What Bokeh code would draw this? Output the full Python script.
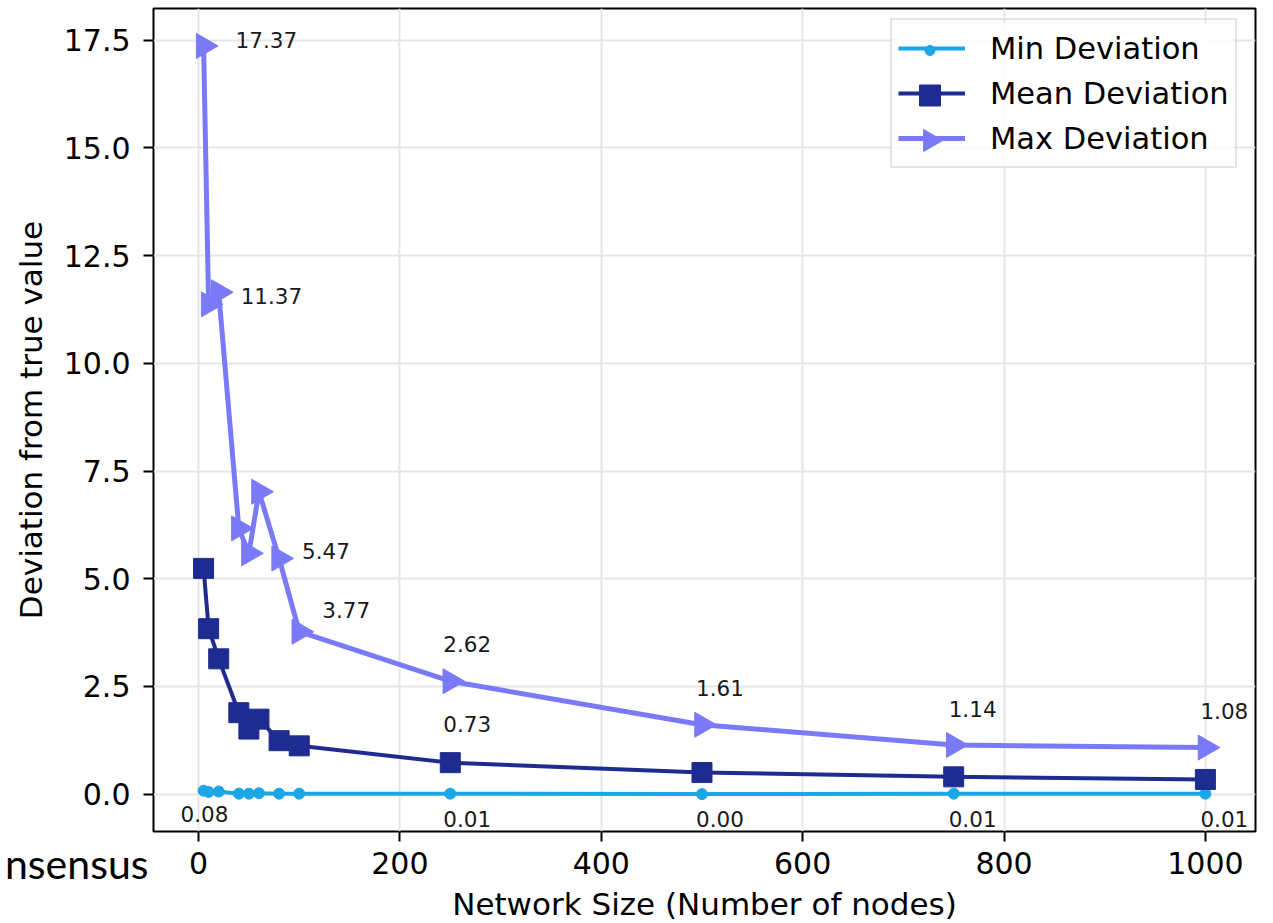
import numpy as np
from bokeh.plotting import figure
from bokeh.models import ColumnDataSource, Range1d, FixedTicker, NumeralTickFormatter, Legend, LegendItem
from bokeh.core.properties import value
from bokeh.embed import file_html
from bokeh.resources import INLINE

# ---------------- data ----------------
nodes = [5, 10, 20, 40, 50, 60, 80, 100, 250, 500, 750, 1000]
min_dev = [0.08, 0.05, 0.06, 0.01, 0.01, 0.02, 0.01, 0.01, 0.01, 0.00, 0.01, 0.01]
mean_dev = [5.24, 3.84, 3.14, 1.89, 1.51, 1.74, 1.24, 1.12, 0.73, 0.50, 0.40, 0.34]
max_dev = [17.37, 11.37, 11.65, 6.17, 5.59, 7.02, 5.47, 3.77, 2.62, 1.61, 1.14, 1.08]

series_names = ["Min Deviation", "Mean Deviation", "Max Deviation"]
x_ticks = [0, 200, 400, 600, 800, 1000]
y_ticks = [0.0, 2.5, 5.0, 7.5, 10.0, 12.5, 15.0, 17.5]
x_label = "Network Size (Number of nodes)"
y_label = "Deviation from true value"
side_text = "nsensus"

# ---------------- styles ----------------
colors = ["#1ba6e6", "#1e2c91", "#7a7af8"]
markers = ["circle", "square", "triangle"]
marker_sizes = [11, 20, 25]
legend_marker_sizes = [10, 21, 22]
marker_angles = [0.0, 0.0, -np.pi / 2]
line_widths = [4, 4, 5]
FONT = "DejaVu Sans"
FW, FH = 1102, 823                 # frame size (px)
LG_LEFT, LG_TOP, LG_W = 737, 14, 344   # legend box position / width inside frame (px)
LG_PAD, LG_H, LG_SP, LG_GW = 6, 44, 1, 67
# annotation placement: (series index, point index, dx px, dy px)
annot_spec = [
    (2, 0, 32, -6), (2, 1, 32, -8), (2, 6, 23, -7), (2, 7, 23, -22),
    (2, 8, -7, -37), (2, 9, -6, -37), (2, 10, -5, -36), (2, 11, -5, -37),
    (1, 8, -7, -39),
    (0, 0, -23, 23), (0, 8, -7, 25), (0, 9, -6, 25), (0, 10, -5, 25), (0, 11, -5, 25),
]

all_series = [min_dev, mean_dev, max_dev]
xmin, xmax = min(nodes), max(nodes)
ymin = min(min(s) for s in all_series)
ymax = max(max(s) for s in all_series)
xm = 0.05 * (xmax - xmin)
ym = 0.05 * (ymax - ymin)
x0, x1 = xmin - xm, xmax + xm
y0, y1 = ymin - ym, ymax + ym


def px_x(px):
    return x0 + px / FW * (x1 - x0)


def px_y(py):
    return y1 - py / FH * (y1 - y0)


p = figure(
    frame_width=FW, frame_height=FH,
    x_range=Range1d(x0, x1), y_range=Range1d(y0, y1),
    output_backend="svg", toolbar_location=None,
    min_border_left=153, min_border_right=10, min_border_top=8, min_border_bottom=0,
    background_fill_color="white", border_fill_color="white",
)
p.outline_line_color = "black"
p.outline_line_width = 2

# axes
for ax in (p.xaxis[0], p.yaxis[0]):
    ax.axis_line_color = None
    ax.major_tick_line_color = "black"
    ax.major_tick_line_width = 2
    ax.major_tick_in = 0
    ax.major_tick_out = 10
    ax.minor_tick_line_color = None
    ax.major_label_text_font = FONT
    ax.major_label_text_font_size = "30px"
    ax.major_label_text_color = "black"
    ax.axis_label_text_font = FONT
    ax.axis_label_text_font_size = "31px"
    ax.axis_label_text_font_style = "normal"
    ax.axis_label_text_color = "black"

p.xaxis.ticker = FixedTicker(ticks=x_ticks)
p.yaxis.ticker = FixedTicker(ticks=y_ticks)
p.yaxis.formatter = NumeralTickFormatter(format="0.0")
p.xaxis.axis_label = x_label
p.yaxis.axis_label = y_label
p.xaxis.major_label_standoff = 10
p.xaxis.axis_label_standoff = 9
p.yaxis.major_label_standoff = 13
p.yaxis.axis_label_standoff = 12

p.xgrid.ticker = FixedTicker(ticks=x_ticks)
p.ygrid.ticker = FixedTicker(ticks=y_ticks)
p.grid.grid_line_color = "#e6e6e6"
p.grid.grid_line_width = 2

# series
line_renderers = []
for k, ser in enumerate(all_series):
    lr = p.line(nodes, ser, color=colors[k], line_width=line_widths[k])
    p.scatter(nodes, ser, marker=markers[k], size=marker_sizes[k], angle=marker_angles[k],
              color=colors[k])
    line_renderers.append(lr)

# annotations
ax_, ay_, at_, adx, ady = [], [], [], [], []
for s, i, dx, dy in annot_spec:
    ax_.append(nodes[i])
    ay_.append(all_series[s][i])
    at_.append(f"{all_series[s][i]:.2f}")
    adx.append(dx)
    ady.append(dy)
src = ColumnDataSource(dict(x=ax_, y=ay_, text=at_, dx=adx, dy=ady))
p.text(x="x", y="y", text="text", x_offset="dx", y_offset="dy", source=src,
       text_font=value(FONT), text_font_size="21.5px", text_color="#1a1a1a",
       text_align="left", text_baseline="middle")

# legend: background drawn as a glyph, markers on top of it, Bokeh legend for lines/labels/frame
lg_height = 2 * LG_PAD + 3 * LG_H + 2 * LG_SP
p.quad(left=[px_x(LG_LEFT + 1)], right=[px_x(LG_LEFT + LG_W - 1)],
       top=[px_y(LG_TOP + 1)], bottom=[px_y(LG_TOP + lg_height - 1)],
       fill_color="white", fill_alpha=0.85, line_color=None)
mx = LG_LEFT + LG_PAD + LG_GW / 2
for k in range(3):
    my = LG_TOP + LG_PAD + LG_H / 2 + k * (LG_H + LG_SP)
    p.scatter([px_x(mx)], [px_y(my)], marker=markers[k],
              size=legend_marker_sizes[k], angle=marker_angles[k], color=colors[k])

legend = Legend(
    items=[LegendItem(label=series_names[k], renderers=[line_renderers[k]]) for k in range(3)],
    location=(LG_LEFT, FH - LG_TOP - lg_height),
    padding=LG_PAD, spacing=LG_SP, margin=0,
    glyph_width=LG_GW, glyph_height=LG_H, label_height=LG_H, label_standoff=25,
    label_text_font=FONT, label_text_font_size="30.5px", label_text_color="black",
    border_line_color="#cccccc", border_line_width=2,
    background_fill_color="white", background_fill_alpha=0.0,
)
p.add_layout(legend)

# leftover slide text, anchored at the frame's bottom-left corner
p.text(x=[x0], y=[y0], text=[side_text], x_offset=-5, y_offset=32, level="overlay",
       text_font=value("Lato"), text_font_size="41px", text_color="black",
       text_align="right", text_baseline="alphabetic")

open("out.html", "w").write(file_html(p, INLINE))
